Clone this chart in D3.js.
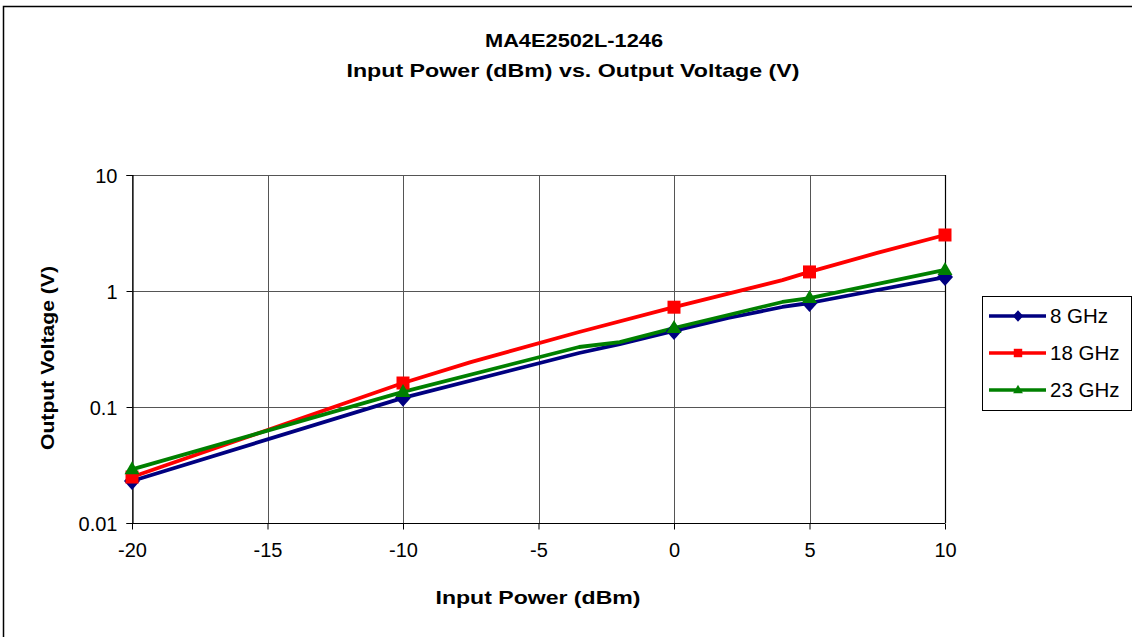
<!DOCTYPE html>
<html><head><meta charset="utf-8">
<script src="https://cdn.jsdelivr.net/npm/d3@7"></script>
<style>body{margin:0;background:#fff}svg{display:block}text{font-family:"Liberation Sans",Arial,sans-serif}</style>
</head><body><svg id="c" width="1132" height="637"></svg>
<script>
const titleLines = ["MA4E2502L-1246", "Input Power (dBm) vs. Output Voltage (V)"];
const xLabel = "Input Power (dBm)";
const yLabel = "Output Voltage (V)";
const xTicks = [-20, -15, -10, -5, 0, 5, 10];
const yTicks = [0.01, 0.1, 1, 10];
const yTickLabels = ["0.01", "0.1", "1", "10"];
const seriesNames = ["8 GHz", "18 GHz", "23 GHz"];
const seriesColors = ["#000080", "#FF0000", "#008000"];
const seriesSymbols = ["diamond", "square", "triangle"];
const markerX = [-20, -10, 0, 5, 10];
const x8 = [-20, -10, -3.5, -2, 0, 2, 4, 5, 10];
const v8 = [0.023, 0.12, 0.292, 0.349, 0.452, 0.585, 0.728, 0.788, 1.32];
const x18 = [-20, -10, -7.5, -3.5, 0, 4, 5, 7.5, 10];
const v18 = [0.0249, 0.161, 0.244, 0.443, 0.725, 1.24, 1.46, 2.13, 3.04];
const x23 = [-20, -10, -3.5, -2, 0, 2, 4, 5, 10];
const v23 = [0.029, 0.135, 0.329, 0.363, 0.48, 0.621, 0.804, 0.87, 1.52];

const series = [
  {name: seriesNames[0], xs: x8, vs: v8},
  {name: seriesNames[1], xs: x18, vs: v18},
  {name: seriesNames[2], xs: x23, vs: v23}
];

const svg = d3.select("#c");
svg.append("rect").attr("x", 3.5).attr("y", 6.5).attr("width", 1140).attr("height", 660)
  .attr("fill", "none").attr("stroke", "#000").attr("stroke-width", 1.5);

const L = 132, R = 945, T = 175, B = 523;
const x = d3.scaleLinear().domain([-20, 10]).range([L, R]);
const y = d3.scaleLog().domain([0.01, 10]).range([B, T]);

const g = svg.append("g");
g.selectAll(".gx").data(xTicks).join("line")
  .attr("x1", d => Math.round(x(d)) + 0.5).attr("x2", d => Math.round(x(d)) + 0.5)
  .attr("y1", T).attr("y2", B).attr("stroke", "#555").attr("stroke-width", 1);
g.selectAll(".gy").data(yTicks).join("line")
  .attr("y1", d => Math.round(y(d)) + 0.5).attr("y2", d => Math.round(y(d)) + 0.5)
  .attr("x1", L).attr("x2", R).attr("stroke", "#555").attr("stroke-width", 1);
svg.append("line").attr("x1", R + 0.5).attr("x2", R + 0.5).attr("y1", T).attr("y2", B)
  .attr("stroke", "#000").attr("stroke-width", 1.2);

const xAxis = d3.axisBottom(x).tickValues(xTicks).tickSize(6).tickPadding(13).tickFormat(d => String(d));
const yAxis = d3.axisLeft(y).tickValues(yTicks).tickSize(6).tickPadding(9)
  .tickFormat((d, i) => yTickLabels[i]);
const gx = svg.append("g").attr("transform", `translate(0,${B + 0.5})`).call(xAxis);
const gy = svg.append("g").attr("transform", `translate(${L + 0.5},0)`).call(yAxis);
[gx, gy].forEach(a => {
  a.select(".domain").attr("stroke", "#000").attr("stroke-width", 1.2);
  a.selectAll(".tick line").attr("stroke", "#000");
  a.selectAll(".tick text").attr("fill", "#000").attr("font-size", 20)
    .attr("font-family", "'Liberation Sans', Arial, sans-serif");
});
gx.select(".domain").attr("d", `M${L},0H${R}`);
gy.selectAll(".tick text").attr("dy", "0.35em");

// marker shapes, scaled by k
function markerPath(type, k) {
  if (type === "diamond") return `M0,${-9*k}L${8*k},0L0,${9*k}L${-8*k},0Z`;
  if (type === "square") return `M${-6.5*k},${-6.5*k}h${13*k}v${13*k}h${-13*k}Z`;
  return `M0,${-8*k}L${7.5*k},${5*k}L${-7.5*k},${5*k}Z`;
}

const line = d3.line().x(d => x(d[0])).y(d => y(d[1]));
series.forEach((s, i) => {
  const pts = s.xs.map((xv, j) => [xv, s.vs[j]]);
  svg.append("path").datum(pts).attr("d", line).attr("fill", "none")
    .attr("stroke", seriesColors[i]).attr("stroke-width", 3.8).attr("stroke-linejoin", "round");
});
series.forEach((s, i) => {
  const pts = s.xs.map((xv, j) => [xv, s.vs[j]]).filter(p => markerX.includes(p[0]));
  svg.selectAll(null).data(pts).join("path")
    .attr("transform", d => `translate(${x(d[0])},${y(d[1])})`)
    .attr("d", markerPath(seriesSymbols[i], 1))
    .attr("fill", seriesColors[i]);
});

function boldText(xp, yp, txt, len, rot) {
  const t = svg.append("text").attr("text-anchor", "middle")
    .attr("font-size", 19).attr("font-weight", "bold")
    .attr("textLength", len).attr("lengthAdjust", "spacingAndGlyphs").text(txt);
  if (rot) t.attr("transform", `translate(${xp},${yp}) rotate(-90)`);
  else t.attr("x", xp).attr("y", yp);
  return t;
}
boldText(574, 47, titleLines[0], 178);
boldText(573, 77, titleLines[1], 453);
boldText(538, 604, xLabel, 205);
boldText(54, 358, yLabel, 184, true);

const lg = svg.append("g").attr("transform", "translate(982,296)");
lg.append("rect").attr("x", 0.5).attr("y", 0.5).attr("width", 149).attr("height", 114)
  .attr("fill", "#fff").attr("stroke", "#000").attr("stroke-width", 1);
seriesNames.forEach((n, i) => {
  const yy = 20 + i * 37;
  lg.append("line").attr("x1", 7).attr("x2", 64).attr("y1", yy).attr("y2", yy)
    .attr("stroke", seriesColors[i]).attr("stroke-width", 3.5);
  lg.append("path").attr("transform", `translate(36,${yy})`)
    .attr("d", markerPath(seriesSymbols[i], 0.65))
    .attr("fill", seriesColors[i]);
  lg.append("text").attr("x", 68).attr("y", yy).attr("dy", "0.36em")
    .attr("font-size", 20.5).text(n);
});
</script></body></html>
